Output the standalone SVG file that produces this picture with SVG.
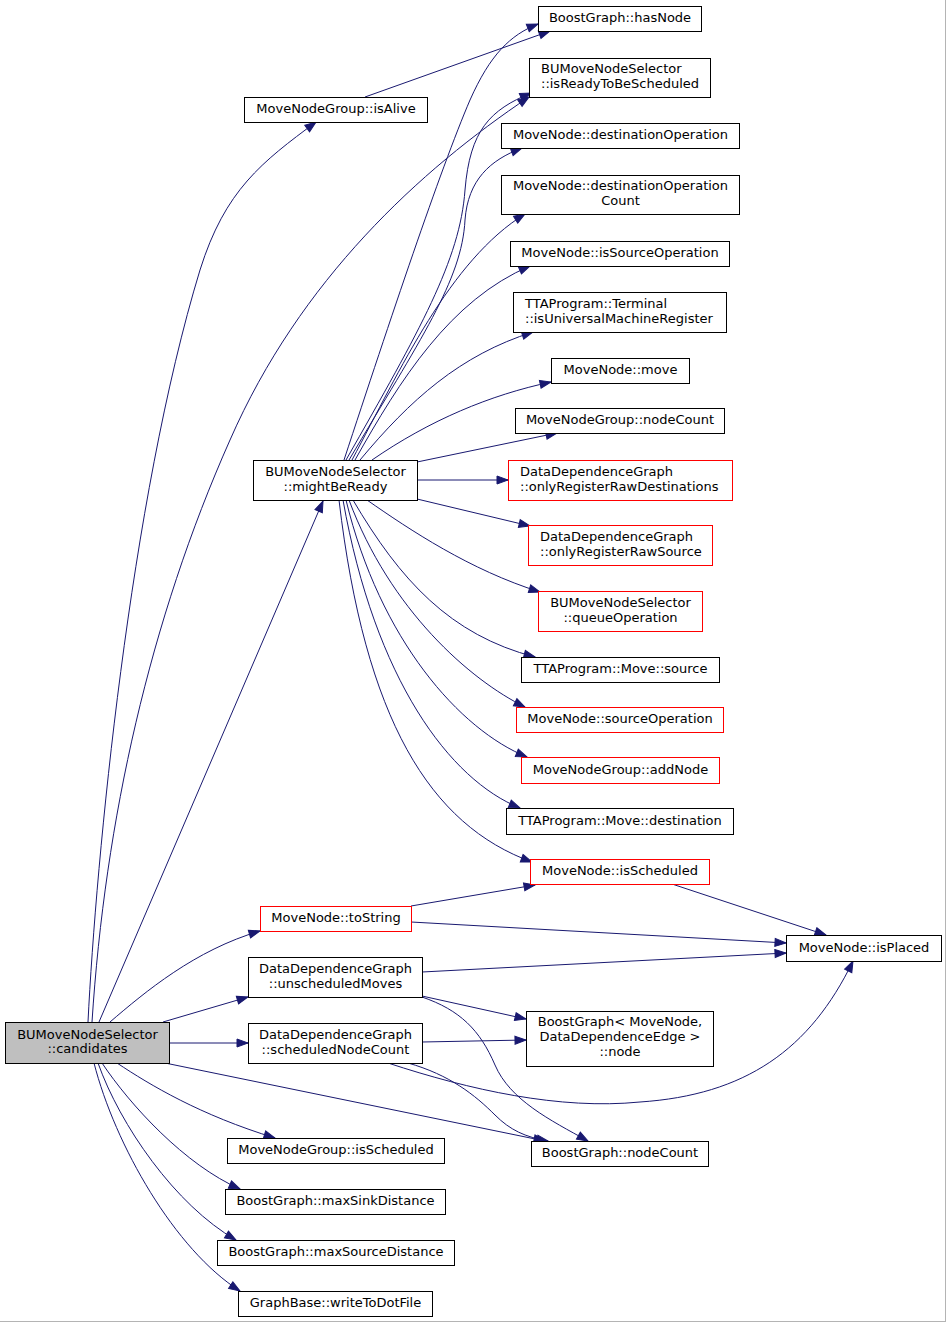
<svg xmlns="http://www.w3.org/2000/svg" width="947" height="1323" viewBox="0 0 947 1323">
<style>
.n rect{fill:#ffffff;stroke:#000000;stroke-width:1}
.n.r rect{stroke:#ff0000}
.n.g rect{fill:#bfbfbf}
text{font-family:"DejaVu Sans","Liberation Sans",sans-serif;font-size:13px;fill:#000000}
.c{text-anchor:middle}
.l{text-anchor:start}
#edges path{fill:none;stroke:#191970;stroke-width:1;marker-end:url(#ah)}
</style>
<defs>
<marker id="ah" markerWidth="12" markerHeight="9" refX="11" refY="4" orient="auto" markerUnits="userSpaceOnUse" overflow="visible">
<path d="M0,0 L11,4 L0,8 Z" fill="#191970" stroke="#191970" stroke-width="1"/>
</marker>
</defs>
<rect x="0" y="0" width="947" height="1323" fill="#ffffff"/>
<line x1="945.5" y1="0" x2="945.5" y2="1322" stroke="#b4b4b4" stroke-width="1"/>
<line x1="0" y1="1321.5" x2="946" y2="1321.5" stroke="#b4b4b4" stroke-width="1"/>

<g id="edges">
<!-- from candidates -->
<path d="M88,1022 C96,860 130,500 200,270 C225,190 262,162 316,122"/>
<path d="M92,1022 C105,820 150,620 230,440 C300,280 420,170 529,97"/>
<path d="M99,1022 L323,501"/>
<path d="M110,1022 C145,992 195,950 260,931"/>
<path d="M163,1022 L248,997"/>
<path d="M169,1043 L248,1043"/>
<path d="M165,1063 L545,1141"/>
<path d="M117,1063 C150,1085 200,1115 275,1138"/>
<path d="M102,1063 C130,1105 185,1165 240,1189"/>
<path d="M98,1063 C120,1125 175,1205 236,1240"/>
<path d="M94,1063 C115,1145 175,1250 240,1291"/>
<!-- isAlive -->
<path d="M365,97 L550,31"/>
<!-- from mightBeReady -->
<path d="M344,460 C390,320 440,170 470,100 C490,55 510,35 538,24"/>
<path d="M346,460 C420,330 460,260 465,190 C470,130 490,110 531,93"/>
<path d="M349,460 C420,340 462,280 465,220 C468,180 490,160 522,148"/>
<path d="M352,460 C400,370 450,260 525,214"/>
<path d="M355,460 C400,380 450,300 530,266"/>
<path d="M360,460 C410,400 460,355 533,332"/>
<path d="M372,460 C430,420 490,395 551,382"/>
<path d="M417,462 L557,433"/>
<path d="M417,480 L508,480"/>
<path d="M417,499 L530,526"/>
<path d="M367,500 C410,530 470,570 540,592"/>
<path d="M353,500 C400,580 450,635 535,657"/>
<path d="M349,500 C390,610 470,680 525,707"/>
<path d="M346,500 C380,640 460,730 527,757"/>
<path d="M343,500 C375,680 450,780 520,808"/>
<path d="M339,500 C365,720 430,825 532,862"/>
<!-- toString -->
<path d="M411,906 L535,885"/>
<path d="M411,922 L786,943"/>
<!-- isScheduled -->
<path d="M672,884 L826,935"/>
<!-- unscheduledMoves -->
<path d="M422,972 L786,953"/>
<path d="M422,996 L526,1019"/>
<path d="M422,997 C460,1010 480,1030 495,1065 C510,1100 550,1120 588,1141"/>
<!-- scheduledNodeCount -->
<path d="M422,1042 L526,1040"/>
<path d="M388,1063 C470,1090 560,1110 640,1102 C745,1095 810,1050 853,961"/>
<path d="M408,1063 C450,1075 475,1095 495,1115 C510,1130 525,1137 548,1141"/>
</g>

<g id="candidates" class="n g"><rect x="5.5" y="1022.5" width="164" height="41"/><text class="c" x="87.5" y="1038.5">BUMoveNodeSelector</text><text class="c" x="87.5" y="1053">::candidates</text></g>
<g id="isAlive" class="n"><rect x="244.5" y="97.5" width="183" height="25"/><text class="c" x="336" y="113">MoveNodeGroup::isAlive</text></g>
<g id="hasNode" class="n"><rect x="538.5" y="6.5" width="163" height="25"/><text class="c" x="620" y="22">BoostGraph::hasNode</text></g>
<g id="isReadyToBeScheduled" class="n"><rect x="529.5" y="58.5" width="181" height="39"/><text class="l" x="541" y="73">BUMoveNodeSelector</text><text class="l" x="541" y="87.5">::isReadyToBeScheduled</text></g>
<g id="mightBeReady" class="n"><rect x="253.5" y="460.5" width="164" height="40"/><text class="c" x="335.5" y="476">BUMoveNodeSelector</text><text class="c" x="335.5" y="490.5">::mightBeReady</text></g>
<g id="destinationOperation" class="n"><rect x="501.5" y="123.5" width="238" height="25"/><text class="c" x="620.5" y="139">MoveNode::destinationOperation</text></g>
<g id="destinationOperationCount" class="n"><rect x="501.5" y="175.5" width="238" height="39"/><text class="c" x="620.5" y="190">MoveNode::destinationOperation</text><text class="c" x="620.5" y="204.5">Count</text></g>
<g id="isSourceOperation" class="n"><rect x="510.5" y="241.5" width="219" height="25"/><text class="c" x="620" y="257">MoveNode::isSourceOperation</text></g>
<g id="isUniversalMachineRegister" class="n"><rect x="513.5" y="292.5" width="213" height="40"/><text class="l" x="525" y="308">TTAProgram::Terminal</text><text class="l" x="525" y="322.5">::isUniversalMachineRegister</text></g>
<g id="move" class="n"><rect x="551.5" y="358.5" width="138" height="25"/><text class="c" x="620.5" y="374">MoveNode::move</text></g>
<g id="mngNodeCount" class="n"><rect x="515.5" y="408.5" width="209" height="25"/><text class="c" x="620" y="424">MoveNodeGroup::nodeCount</text></g>
<g id="onlyRegisterRawDestinations" class="n r"><rect x="508.5" y="460.5" width="224" height="40"/><text class="l" x="520" y="476">DataDependenceGraph</text><text class="l" x="520" y="490.5">::onlyRegisterRawDestinations</text></g>
<g id="onlyRegisterRawSource" class="n r"><rect x="528.5" y="525.5" width="184" height="40"/><text class="l" x="540" y="541">DataDependenceGraph</text><text class="l" x="540" y="555.5">::onlyRegisterRawSource</text></g>
<g id="queueOperation" class="n r"><rect x="538.5" y="591.5" width="164" height="40"/><text class="c" x="620.5" y="607">BUMoveNodeSelector</text><text class="c" x="620.5" y="621.5">::queueOperation</text></g>
<g id="moveSource" class="n"><rect x="521.5" y="657.5" width="198" height="25"/><text class="c" x="620.5" y="673">TTAProgram::Move::source</text></g>
<g id="sourceOperation" class="n r"><rect x="516.5" y="707.5" width="207" height="25"/><text class="c" x="620" y="723">MoveNode::sourceOperation</text></g>
<g id="addNode" class="n r"><rect x="521.5" y="757.5" width="198" height="26"/><text class="c" x="620.5" y="773.5">MoveNodeGroup::addNode</text></g>
<g id="moveDestination" class="n"><rect x="506.5" y="808.5" width="227" height="26"/><text class="c" x="620" y="824.5">TTAProgram::Move::destination</text></g>
<g id="isScheduled" class="n r"><rect x="530.5" y="859.5" width="179" height="25"/><text class="c" x="620" y="875">MoveNode::isScheduled</text></g>
<g id="toString" class="n r"><rect x="260.5" y="906.5" width="151" height="25"/><text class="c" x="336" y="922">MoveNode::toString</text></g>
<g id="isPlaced" class="n"><rect x="786.5" y="935.5" width="155" height="26"/><text class="c" x="864" y="951.5">MoveNode::isPlaced</text></g>
<g id="unscheduledMoves" class="n"><rect x="248.5" y="957.5" width="174" height="40"/><text class="c" x="335.5" y="973">DataDependenceGraph</text><text class="c" x="335.5" y="987.5">::unscheduledMoves</text></g>
<g id="scheduledNodeCount" class="n"><rect x="248.5" y="1023.5" width="174" height="40"/><text class="c" x="335.5" y="1039">DataDependenceGraph</text><text class="c" x="335.5" y="1053.5">::scheduledNodeCount</text></g>
<g id="bgNode" class="n"><rect x="526.5" y="1011.5" width="187" height="55"/><text class="c" x="620" y="1026">BoostGraph&lt; MoveNode,</text><text class="c" x="620" y="1041">DataDependenceEdge &gt;</text><text class="c" x="620" y="1056">::node</text></g>
<g id="bgNodeCount" class="n"><rect x="531.5" y="1141.5" width="177" height="25"/><text class="c" x="620" y="1157">BoostGraph::nodeCount</text></g>
<g id="mngIsScheduled" class="n"><rect x="227.5" y="1138.5" width="217" height="25"/><text class="c" x="336" y="1154">MoveNodeGroup::isScheduled</text></g>
<g id="maxSinkDistance" class="n"><rect x="225.5" y="1189.5" width="220" height="25"/><text class="c" x="335.5" y="1205">BoostGraph::maxSinkDistance</text></g>
<g id="maxSourceDistance" class="n"><rect x="217.5" y="1240.5" width="237" height="25"/><text class="c" x="336" y="1256">BoostGraph::maxSourceDistance</text></g>
<g id="writeToDotFile" class="n"><rect x="238.5" y="1291.5" width="194" height="25"/><text class="c" x="335.5" y="1307">GraphBase::writeToDotFile</text></g>
</svg>
